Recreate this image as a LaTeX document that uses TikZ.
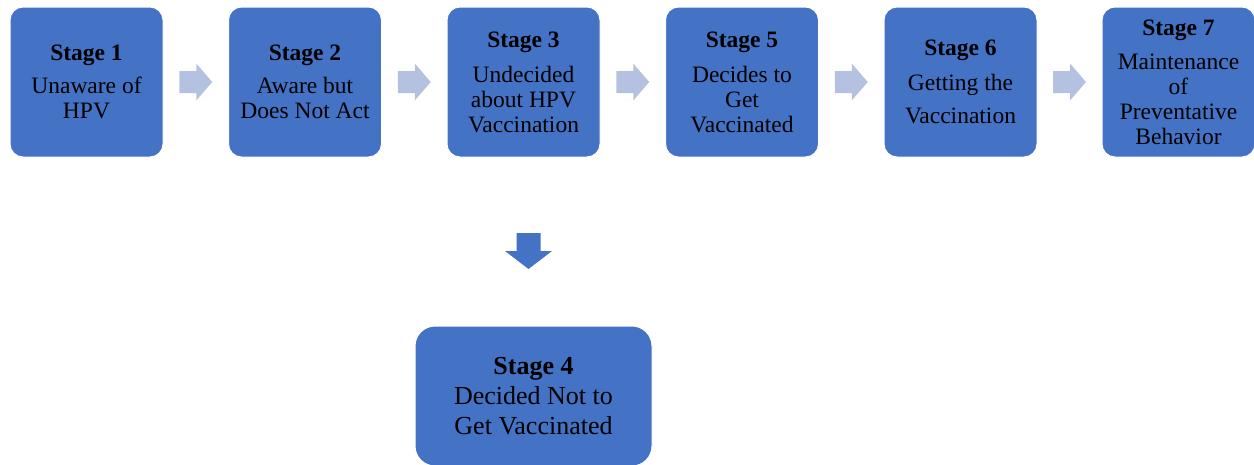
\documentclass[tikz,border=0pt]{standalone}
\usepackage{fontspec}
\setmainfont{Liberation Serif}
\usetikzlibrary{calc}
\definecolor{boxblue}{HTML}{4472C4}
\definecolor{arrowblue}{RGB}{180,193,225}
\tikzset{
  stagebox/.style={draw=white, line width=1pt, fill=boxblue, rounded corners=13pt,
    minimum width=153pt, minimum height=150pt, inner sep=0pt, align=center,
    font=\fontsize{23.5}{25}\selectfont, text=black},
  bigbox/.style={stagebox, rounded corners=20pt, minimum width=237pt,
    minimum height=140pt, font=\fontsize{26}{30}\selectfont},
  flowarrow/.style={fill=arrowblue},
  downarrow/.style={fill=boxblue},
}
\begin{document}
\begin{tikzpicture}[x=1pt, y=-1pt]
\useasboundingbox (0,0) rectangle (1254,464);

\node[stagebox] (s1) at (86.5,82) {\textbf{Stage 1}\\[8pt]Unaware of\\HPV};
\node[stagebox] (s2) at (305,82) {\textbf{Stage 2}\\[8pt]Aware but\\Does Not Act};
\node[stagebox] (s3) at (523.5,82) {\textbf{Stage 3}\\[10pt]Undecided\\about HPV\\Vaccination};
\node[stagebox] (s5) at (742,82) {\textbf{Stage 5}\\[10pt]Decides to\\Get\\Vaccinated};
\node[stagebox] (s6) at (960.5,82) {\textbf{Stage 6}\\[10pt]Getting the\\[8pt]Vaccination};
\node[stagebox] (s7) at (1178.5,82) {\textbf{Stage 7}\\[9pt]Maintenance\\of\\Preventative\\Behavior};
\node[bigbox] (s4) at (533.5,396) {\textbf{Stage 4}\\Decided Not to\\Get Vaccinated};

\foreach \a/\b in {s1/s2, s2/s3, s3/s5, s5/s6, s6/s7} {
  \coordinate (m\a) at ($(\a.east)!0.5!(\b.west)$);
  \fill[flowarrow] (m\a) ++(-16.5,-11) -- ++(17,0) -- ++(0,-7.5) -- ++(16,18.5)
    -- ++(-16,18.5) -- ++(0,-7.5) -- ++(-17,0) -- cycle;
}

\coordinate (m34) at ($(s3.south)!0.5!(s4.north)$);
\fill[downarrow] (m34) ++(-12,-8.5) -- ++(24,0) -- ++(0,18) -- ++(11.5,0)
  -- ++(-23.5,18) -- ++(-23.5,-18) -- ++(11.5,0) -- cycle;
\end{tikzpicture}
\end{document}
